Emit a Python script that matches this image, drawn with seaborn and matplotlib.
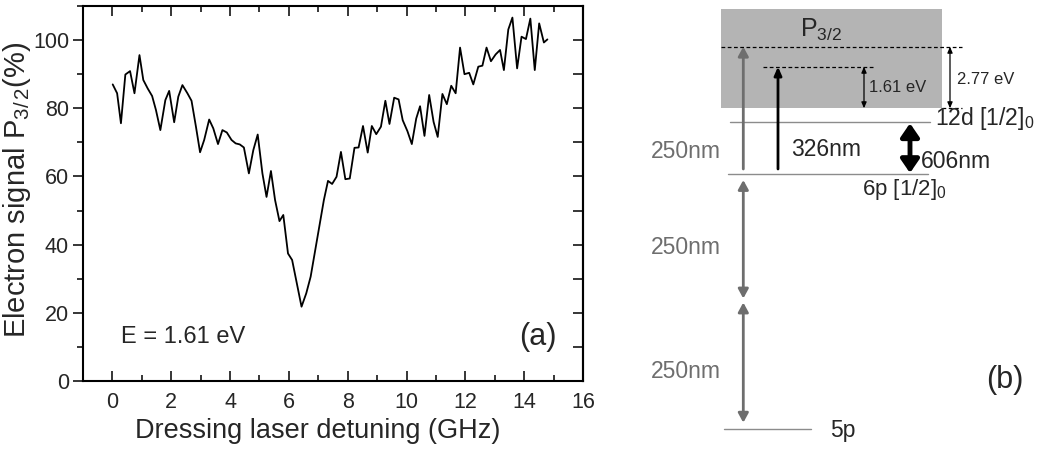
import matplotlib
matplotlib.use("Agg")
import matplotlib.pyplot as plt
import pandas as pd
import seaborn as sns
from matplotlib.patches import Rectangle
from matplotlib.ticker import MultipleLocator

sns.set_style("white")
plt.rcParams["font.family"] = ["Liberation Sans", "DejaVu Sans"]
plt.rcParams["mathtext.fontset"] = "custom"
plt.rcParams["mathtext.rm"] = "Liberation Sans"
plt.rcParams["mathtext.it"] = "Liberation Sans:italic"

# panel (a): electron signal vs dressing laser detuning
detuning_ghz = [
    0.01, 0.16, 0.29, 0.44, 0.60, 0.75, 0.92, 1.05, 1.20, 1.35, 1.48, 1.63,
    1.80, 1.93, 2.10, 2.24, 2.38, 2.55, 2.69, 2.84, 2.98, 3.12, 3.29, 3.43,
    3.59, 3.74, 3.89, 4.05, 4.19, 4.33, 4.47, 4.64, 4.79, 4.94, 5.10, 5.24,
    5.39, 5.53, 5.68, 5.81, 5.97, 6.11, 6.43, 6.59, 6.74, 7.19, 7.33, 7.47,
    7.62, 7.77, 7.92, 8.07, 8.23, 8.37, 8.52, 8.68, 8.82, 8.97, 9.13, 9.28,
    9.42, 9.58, 9.73, 9.87, 10.03, 10.18, 10.33, 10.46, 10.61, 10.77, 10.92,
    11.06, 11.22, 11.37, 11.52, 11.67, 11.82, 11.97, 12.13, 12.27, 12.44,
    12.58, 12.72, 12.87, 13.03, 13.18, 13.31, 13.46, 13.60, 13.76, 13.91,
    14.06, 14.21, 14.36, 14.51, 14.67, 14.79,
]
signal_pct = [
    87.0, 84.4, 75.6, 89.9, 90.9, 84.4, 95.6, 88.3, 85.8, 83.6, 79.5, 73.6,
    82.4, 85.1, 75.9, 83.4, 86.8, 84.4, 82.2, 74.6, 67.1, 70.7, 76.7, 74.1,
    69.5, 73.6, 72.9, 70.7, 69.7, 69.4, 68.5, 60.9, 67.7, 72.3, 60.9, 54.0,
    61.6, 53.1, 46.9, 48.7, 37.4, 35.5, 21.8, 25.7, 30.6, 53.1, 58.7, 57.8,
    59.9, 67.2, 59.2, 59.4, 68.4, 68.5, 74.8, 67.0, 74.8, 72.4, 74.6, 82.2,
    75.4, 83.1, 82.6, 76.5, 73.3, 69.5, 77.0, 80.6, 71.9, 83.9, 76.0,
    71.6, 84.2, 81.2, 86.6, 84.4, 97.8, 90.0, 90.4, 87.0, 92.2,
    92.5, 97.8, 93.8, 95.8, 97.1, 91.2, 103.1, 106.6, 91.7, 101.0,
    100.3, 106.3, 91.2, 104.9, 99.3, 100.2,
]

# panel (b): schematic level diagram (diagram units, y grows downward)
level_names = ["5p", "6p [1/2]$_0$", "12d [1/2]$_0$"]
level_y = [428.7, 174.0, 122.3]
level_x0 = [124, 128, 130]
level_x1 = [211, 328, 330]
continuum_top, continuum_bottom = 9.3, 108.3
continuum_x = [120.7, 341.7]
virtual_y_250 = 46.7
virtual_y_326 = 66.7
mid_y_250 = 300.5
photon_labels = ["250nm", "250nm", "250nm", "326nm", "606nm"]
energy_labels = ["2.77 eV", "1.61 eV"]

df = pd.DataFrame({"detuning": detuning_ghz, "signal": signal_pct})

fig = plt.figure(figsize=(10.39, 4.51), dpi=100)
ax = fig.add_axes([83 / 1039, 1 - 381 / 451, 500 / 1039, 375 / 451])
sns.lineplot(data=df, x="detuning", y="signal", color="black", lw=1.3, ax=ax)
ax.set_xlim(-1, 16)
ax.set_ylim(0, 110)
ax.xaxis.set_major_locator(MultipleLocator(2))
ax.xaxis.set_minor_locator(MultipleLocator(1))
ax.yaxis.set_major_locator(MultipleLocator(20))
ax.yaxis.set_minor_locator(MultipleLocator(10))
ax.set_yticks([0, 20, 40, 60, 80, 100])
for s in ax.spines.values():
    s.set_linewidth(1.5)
    s.set_color("black")
ax.tick_params(axis="x", which="both", direction="in", top=True, bottom=True,
               labelsize=15.5, width=1.3, pad=8)
ax.tick_params(axis="y", which="both", direction="out", left=True, labelsize=15.5,
               width=1.3, pad=3)
ax.tick_params(which="major", length=7)
ax.tick_params(which="minor", length=4)
# right side ticks point inward
ax_r = ax.secondary_yaxis("right")
ax_r.yaxis.set_major_locator(MultipleLocator(10))
ax_r.tick_params(direction="in", length=7, width=1.3, labelright=False)
ax_r.spines["right"].set_linewidth(1.5)
ax.set_xlabel("Dressing laser detuning (GHz)", fontsize=19.5)
ax.xaxis.set_label_coords(0.47, -0.1)
ax.set_ylabel(r"Electron signal $\mathregular{P_{3/\,2}}$(%)", fontsize=21)
ax.yaxis.set_label_coords(-0.1, 0.509)
ax.text(0.3, 13, "E = 1.61 eV", fontsize=17, va="center")
ax.text(15.1, 13, "(a)", fontsize=22, va="center", ha="right")

# panel (b)
bx = fig.add_axes([600 / 1039, 0, 439 / 1039, 1])
bx.set_xlim(0, 439)
bx.set_ylim(451, 0)
bx.axis("off")

bx.add_patch(Rectangle((continuum_x[0], continuum_top), continuum_x[1] - continuum_x[0],
                       continuum_bottom - continuum_top, color="#b4b4b4", lw=0))
bx.text(200, 30, r"$\mathregular{P_{3/2}}$", fontsize=18, va="center")

for x0, x1, y in zip(level_x0, level_x1, level_y):
    bx.plot([x0, x1], [y, y], color="#8c8c8c", lw=1)
bx.text(230, 430, level_names[0], fontsize=16.5, va="center")
bx.text(262, 190, level_names[1], fontsize=16, va="center")
bx.text(335, 118, level_names[2], fontsize=16.5, va="center")

# virtual levels
bx.plot([120.7, 361.7], [virtual_y_250] * 2, color="black", lw=0.9, ls=(0, (3, 2)))
bx.plot([163, 273], [virtual_y_326] * 2, color="black", lw=0.9, ls=(0, (3, 2)))
bx.plot([341.7, 361.7], [continuum_bottom] * 2, color="black", lw=0.9, ls=(0, (3, 2)))

gray = "#6e6e6e"
gray_head = dict(arrowstyle="-|>,head_length=0.55,head_width=0.3", color=gray, lw=2,
                 shrinkA=0, shrinkB=0)
gray_dbl = dict(arrowstyle="<|-|>,head_length=0.55,head_width=0.3", color=gray, lw=2,
                shrinkA=0, shrinkB=0)
bx.annotate("", xy=(143.3, virtual_y_250), xytext=(143.3, level_y[1] - 5), arrowprops=gray_head)
bx.annotate("", xy=(143.3, level_y[1] + 6), xytext=(143.3, mid_y_250 - 2), arrowprops=gray_dbl)
bx.annotate("", xy=(143.3, mid_y_250 + 2), xytext=(143.3, level_y[0] - 6), arrowprops=gray_dbl)
bx.text(86, 151.7, photon_labels[0], fontsize=16.5, color=gray, ha="center", va="center")
bx.text(86, 248, photon_labels[1], fontsize=16.5, color=gray, ha="center", va="center")
bx.text(86, 371.7, photon_labels[2], fontsize=16.5, color=gray, ha="center", va="center")

bx.annotate("", xy=(178, virtual_y_326), xytext=(178, level_y[1] - 5),
            arrowprops=dict(arrowstyle="-|>,head_length=0.5,head_width=0.22", color="black",
                            lw=2, shrinkA=0, shrinkB=0))
bx.text(190.7, 150, photon_labels[3], fontsize=16.5, va="center")

bx.annotate("", xy=(310, level_y[2] + 1), xytext=(310, level_y[1] - 1),
            arrowprops=dict(arrowstyle="<|-|>,head_length=0.8,head_width=0.55", color="black",
                            lw=3.5, shrinkA=0, shrinkB=0))
bx.text(321, 161, photon_labels[4], fontsize=16.5, va="center")

thin_dbl = dict(arrowstyle="<|-|>,head_length=0.35,head_width=0.15", color="black", lw=0.9,
                shrinkA=0, shrinkB=0)
bx.annotate("", xy=(350, virtual_y_250), xytext=(350, continuum_bottom), arrowprops=thin_dbl)
bx.annotate("", xy=(264, virtual_y_326), xytext=(264, continuum_bottom), arrowprops=thin_dbl)
bx.text(357, 79, energy_labels[0], fontsize=12, va="center")
bx.text(269, 88, energy_labels[1], fontsize=12, va="center")

bx.text(405, 380, "(b)", fontsize=22, ha="center", va="center")

fig.savefig("out.png", dpi=100)
